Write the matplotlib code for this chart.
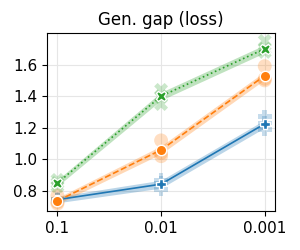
import matplotlib
matplotlib.use("Agg")
import matplotlib.pyplot as plt
import numpy as np

x_labels = ["0.1", "0.01", "0.001"]
series_names = ["A", "B", "C"]
means = {
    "A": [0.745, 0.843, 1.225],
    "B": [0.737, 1.060, 1.530],
    "C": [0.850, 1.400, 1.700],
}
runs = {
    "A": [[0.74, 0.75, 0.745], [0.81, 0.85, 0.87], [1.19, 1.23, 1.27]],
    "B": [[0.72, 0.73, 0.77], [1.02, 1.04, 1.12], [1.50, 1.51, 1.59]],
    "C": [[0.83, 0.85, 0.87], [1.35, 1.40, 1.44], [1.68, 1.70, 1.75]],
}
band = {"A": [0.02, 0.025, 0.025], "B": [0.02, 0.025, 0.025], "C": [0.02, 0.025, 0.025]}

colors = {"A": "#1f77b4", "B": "#ff7f0e", "C": "#2ca02c"}
markers = {"A": "P", "B": "o", "C": "X"}
styles = {"A": "-", "B": "--", "C": ":"}

fig, ax = plt.subplots(figsize=(3, 2.5), dpi=100)
xs = np.arange(len(x_labels))
for s in series_names:
    m = np.array(means[s]); b = np.array(band[s])
    c = colors[s]
    ax.fill_between(xs, m - b, m + b, color=c, alpha=0.3, lw=0, zorder=2)
    for i, vals in enumerate(runs[s]):
        ax.scatter([xs[i]] * len(vals), vals, s=100, marker=markers[s], color=c,
                   alpha=0.25, edgecolors="none", zorder=3)
    ax.plot(xs, m, linestyle=styles[s], color=c, lw=1.2, marker=markers[s],
            markersize=7.5, markeredgecolor="white", markeredgewidth=1.0, zorder=4)

ax.set_xticks(xs)
ax.set_xticklabels(x_labels)
ax.set_xlim(-0.1, 2.1)
ax.set_ylim(0.673, 1.80)
ax.set_yticks([0.8, 1.0, 1.2, 1.4, 1.6])
ax.tick_params(labelsize=11)
ax.grid(True, color="#e6e6e6", lw=0.8)
ax.set_axisbelow(True)
ax.set_title("Gen. gap (loss)", fontsize=12)
fig.subplots_adjust(left=0.157, right=0.917, top=0.868, bottom=0.156)
fig.savefig("out.png")
